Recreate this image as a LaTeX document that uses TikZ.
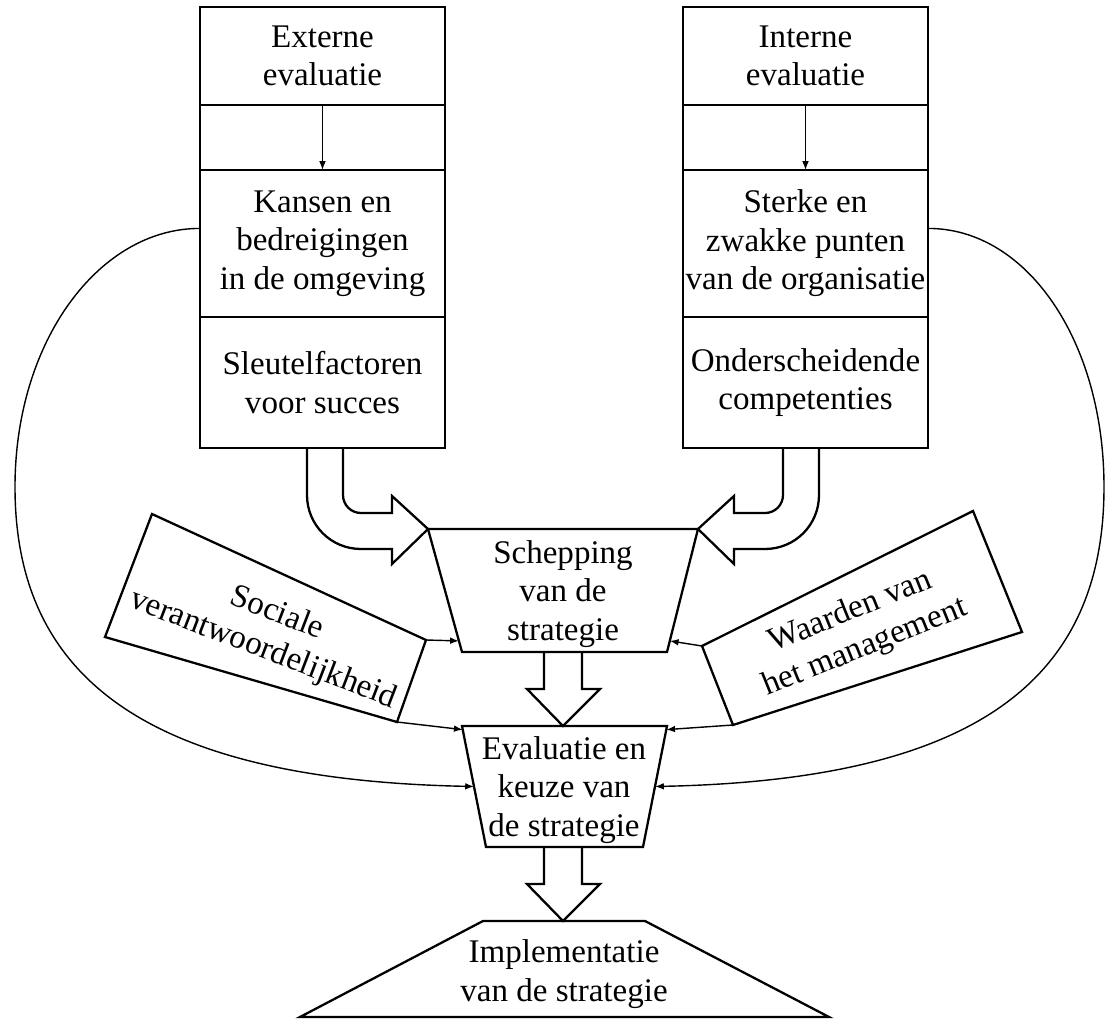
\documentclass[tikz,border=0pt]{standalone}
\usepackage{fontspec}
\setmainfont{Liberation Serif}
\usetikzlibrary{positioning,calc,arrows.meta}

\tikzset{
  cell/.style={draw, line width=1.3pt, minimum width=4.9cm, inner sep=0pt, outer sep=0pt, align=center},
  outline/.style={line width=1.3pt, line join=miter},
  link/.style={line width=0.8pt, -{Latex[length=5pt,width=3.8pt]}},
  txt/.style={align=center, inner sep=0pt}
}

\begin{document}
\begin{tikzpicture}[x=0.02cm, y=-0.02cm, font=\fontsize{18.8}{22}\selectfont]
  \useasboundingbox (0,0) rectangle (1106,1020);

  \node[cell, minimum height=1.96cm, anchor=north] (ext) at (322.5,7) {Externe\\evaluatie};
  \node[cell, minimum height=1.3cm, below=0pt of ext] (extgap) {};
  \node[cell, minimum height=2.94cm, below=0pt of extgap] (kans) {Kansen en\\bedreigingen\\in de omgeving};
  \node[cell, minimum height=2.62cm, below=0pt of kans] (succes) {Sleutelfactoren\\voor succes};

  \node[cell, minimum height=1.96cm, anchor=north] (int) at (805.5,7) {Interne\\evaluatie};
  \node[cell, minimum height=1.3cm, below=0pt of int] (intgap) {};
  \node[cell, minimum height=2.94cm, below=0pt of intgap] (sterk) {Sterke en\\zwakke punten\\van de organisatie};
  \node[cell, minimum height=2.62cm, below=0pt of sterk] (comp) {Onderscheidende\\competenties};

  \draw[link] (ext.south) -- (kans.north);
  \draw[link] (int.south) -- (sterk.north);

  \draw[outline] (428,529) coordinate (schA) -- (698,529) coordinate (schB)
    -- (667,652) coordinate (schC) -- (462,652) coordinate (schD) -- cycle;
  \node[txt] (sch) at (563,594) {Schepping\\van de\\strategie};

  \draw[outline] (462,726) coordinate (evA) -- (667,726) coordinate (evB)
    -- (643,847) coordinate (evC) -- (486,847) coordinate (evD) -- cycle;
  \node[txt] (ev) at (564,790) {Evaluatie en\\keuze van\\de strategie};

  \draw[outline] (483,921) coordinate (imA) -- (645,921) coordinate (imB)
    -- (829,1017) coordinate (imC) -- (300,1017) coordinate (imD) -- cycle;
  \node[txt] (im) at (564,974) {Implementatie\\van de strategie};

  \draw[outline] (152,514) coordinate (socA) -- (426,640) coordinate (socB)
    -- (397,722) coordinate (socC) -- (105,637) coordinate (socD) -- cycle;
  \node[txt, rotate=-21] (soc) at (270,632) {Sociale\\verantwoordelijkheid};

  \draw[outline] (702,646) coordinate (wrdA) -- (973,511) coordinate (wrdB)
    -- (1022,632) coordinate (wrdC) -- (733,725) coordinate (wrdD) -- cycle;
  \node[txt, rotate=22] (wrd) at (858,630) {Waarden van\\het management};

  \draw[outline] (307,448) -- (307,495) .. controls (307,525) and (331,549) .. (361,549)
    -- (392,549) -- (392,564) -- (schA) -- (392,496) -- (392,513) -- (361,513)
    .. controls (351,513) and (343,505) .. (343,495) -- (343,448);
  \draw[outline] (819,448) -- (819,495) .. controls (819,525) and (795,549) .. (765,549)
    -- (734,549) -- (734,564) -- (schB) -- (734,496) -- (734,513) -- (765,513)
    .. controls (775,513) and (783,505) .. (783,495) -- (783,448);

  \foreach \ya/\yb in {652/689, 847/884}
    \draw[outline] (544,\ya) -- (544,\yb) -- (527,\yb) -- (563,\yb+37)
      -- (600,\yb) -- (582,\yb) -- (582,\ya);

  \draw[link] (socB) -- ($(schA)!0.91!(schD)$);
  \draw[link] (socC) -- ($(evA)!0.03!(evD)$);
  \draw[link] (wrdA) -- ($(schB)!0.91!(schC)$);
  \draw[link] (wrdD) -- ($(evB)!0.03!(evC)$);

  \draw[link] ($(kans.west)+(0,-15)$) .. controls (100,228) and (15,340) .. (15,487)
    .. controls (15,680) and (150,780) .. ($(evA)!0.5!(evD)$);
  \draw[link] ($(sterk.east)+(0,-15)$) .. controls (1026,228) and (1104,340) .. (1104,487)
    .. controls (1104,680) and (976,780) .. ($(evB)!0.5!(evC)$);
\end{tikzpicture}
\end{document}
